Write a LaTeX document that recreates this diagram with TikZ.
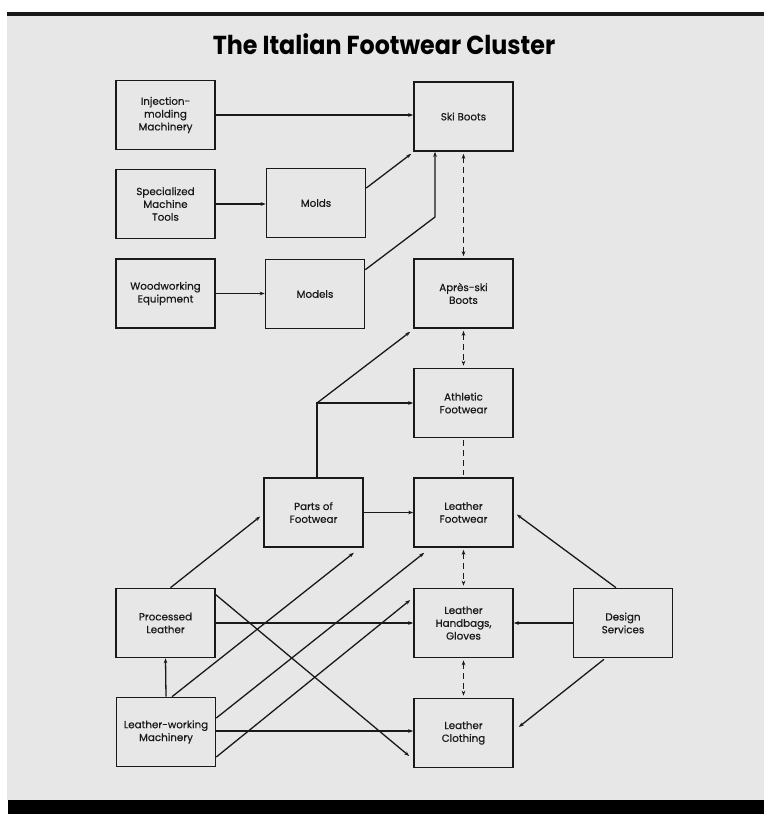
\documentclass[tikz,border=0pt]{standalone}
\usepackage{fontspec}
\setmainfont{Poppins}
\newfontfamily\boxfont{Poppins}[FakeBold=0.5]
\usetikzlibrary{arrows.meta,calc}
\definecolor{bg}{gray}{0.905}
\definecolor{ink}{gray}{0.1}
\begin{document}
\begin{tikzpicture}[x=1pt,y=-1pt,
  box/.style={draw=ink, line width=1.6pt, fill=bg, minimum width=99pt, minimum height=69pt,
              inner sep=0pt, align=center, text=ink, font=\boxfont\fontsize{10.3}{12.8}\selectfont},
  tip/.tip={Stealth[length=5pt,width=3.6pt]},
  arr/.style={draw=ink, line width=1.3pt, -tip},
  darr/.style={draw=ink, line width=1.3pt, tip-tip, dash pattern=on 6pt off 4pt,
               shorten <=2pt, shorten >=2pt},
  dln/.style={draw=ink, line width=1.3pt, dash pattern=on 6pt off 4pt,
              shorten <=2pt, shorten >=2pt}]

\useasboundingbox (0,0) rectangle (764,814);
\fill[white] (0,0) rectangle (764,814);
\fill[bg] (7,14) rectangle (764,800);
\fill[ink] (7,12) rectangle (764,15.5);
\fill[black] (8,800) rectangle (764,814);

\node[anchor=base, text=black, font=\fontsize{26}{30}\selectfont\bfseries] (title) at (384,54)
  {\scalebox{0.915}[1]{The Italian Footwear Cluster}};

% column 1
\node[box] (inj)   at (165.5,115)   {Injection-\\molding\\Machinery};
\node[box] (spec)  at (165.5,204)   {Specialized\\Machine\\Tools};
\node[box] (wood)  at (165.5,293.5) {Woodworking\\Equipment};
\node[box] (proc)  at (165.5,623)   {Processed\\Leather};
\node[box] (lwork) at (166,732)     {Leather-working\\Machinery};
% column 2
\node[box] (molds)  at (316,203)    {Molds};
\node[box] (models) at (315,294)    {Models};
\node[box] (parts)  at (313.5,512.5){Parts of\\Footwear};
% column 3
\node[box] (ski)   at (463.5,116.5) {Ski Boots};
\node[box] (apres) at (463.5,293.5) {Après-ski\\Boots};
\node[box] (ath)   at (463.5,403)   {Athletic\\Footwear};
\node[box] (lfoot) at (463.5,512.5) {Leather\\Footwear};
\node[box] (bags)  at (463.5,623)   {Leather\\Handbags,\\Gloves};
\node[box] (cloth) at (463.5,733)   {Leather\\Clothing};
% column 4
\node[box] (design) at (623,623) {Design\\Services};

% top group
\draw[arr] (inj.east) -- (inj.east -| ski.west);
\draw[arr] (spec.east) -- (spec.east -| molds.west);
\draw[arr] (wood.east) -- (wood.east -| models.west);
\draw[arr] ($(molds.east)+(0,-15)$) -- ($(ski.south west)+(-2,2)$);
\coordinate (mk) at (435,217);
\draw[arr] ($(models.north east)+(0,11)$) -- (mk) -- (mk |- ski.south);

% vertical dashed chain
\draw[darr] (ski.south) -- (apres.north);
\draw[darr] (apres.south) -- (ath.north);
\draw[dln]  (ath.south) -- (lfoot.north);
\draw[darr] (lfoot.south) -- (bags.north);
\draw[darr] (bags.south) -- (cloth.north);

% parts of footwear
\coordinate (pj) at (317,403);
\draw[arr] (pj |- parts.north) -- (pj) -- (pj -| ath.west);
\draw[arr] (pj) -- ($(apres.south west)+(-3,3)$);
\draw[arr] (parts.east) -- (parts.east -| lfoot.west);

% processed leather
\draw[arr] ($(proc.north)+(5,0)$) -- ($(parts.west)+(-3,4)$);
\draw[arr] (proc.east) -- (proc.east -| bags.west);
\draw[arr] ($(proc.north east)+(0,7)$) -- ($(cloth.west)+(-4,23)$);

% leather-working machinery
\coordinate (lw1) at ($(lwork.east)+(0,-1)$);
\draw[arr] (lwork.north) -- (proc.south);
\draw[arr] ($(lwork.north)+(6,0)$) -- ($(parts.south east)+(-10,5)$);
\draw[arr] ($(lwork.east)+(0,-14)$) -- ($(lfoot.south west)+(11,5)$);
\draw[arr] ($(lwork.east)+(0,25)$) -- ($(bags.west)+(-3,-23)$);
\draw[arr] (lw1) -- (lw1 -| cloth.west);

% design services
\draw[arr] ($(design.north)+(-7,0)$) -- ($(lfoot.east)+(3,2)$);
\draw[arr] (design.west) -- (bags.east);
\draw[arr] ($(design.south)+(-19,1)$) -- ($(cloth.east)+(5,-6)$);
\end{tikzpicture}
\end{document}
